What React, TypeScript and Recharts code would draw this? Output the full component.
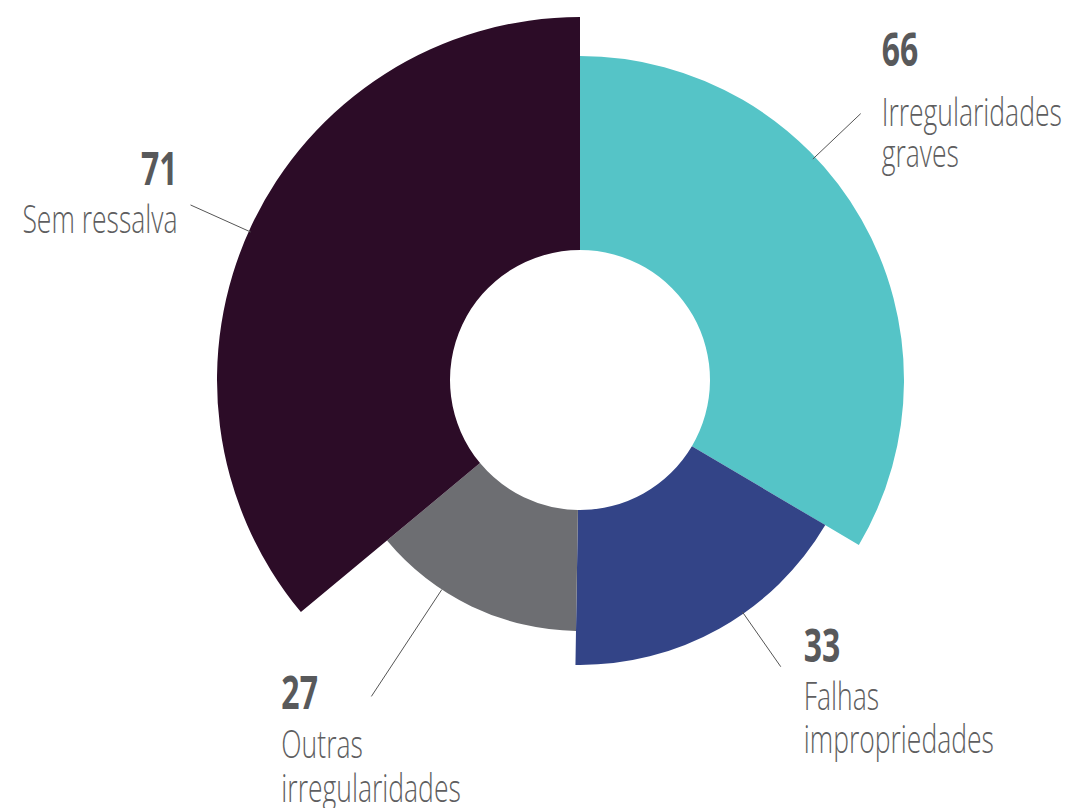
import React from "react";
import { PieChart, Pie, Cell } from "recharts";

const categories = ["Irregularidades graves", "Falhas impropriedades", "Outras irregularidades", "Sem ressalva"];
const values = [66, 33, 27, 71];
const labelLines = [["Irregularidades", "graves"], ["Falhas", "impropriedades"], ["Outras", "irregularidades"], ["Sem ressalva"]];

const colors = ["#55C4C7", "#334487", "#6D6E72", "#2C0C27"];
const outerRadii = [324, 285, 251, 363];
const INNER = 130;

// label layout: leader line angle (deg), radii, text offsets relative to line end
const labelLayout = [
  { angle: 43.5, r1: 321, r2: 387, anchor: "start", dx: 21, numDy: -48, textDy: [12, 53] },
  { angle: -55, r1: 283, r2: 350, anchor: "start", dx: 23, numDy: -5, textDy: [43, 86] },
  { angle: 236.6, r1: 251, r2: 379, anchor: "start", dx: -90, numDy: 13, textDy: [62, 106] },
  { angle: 155.8, r1: 361, r2: 427, anchor: "end", dx: -13, numDy: -20, textDy: [28] },
];

const data = categories.map((name, i) => ({ name, value: values[i], lines: labelLines[i] }));

const FONT = "'Open Sans', 'Noto Sans', sans-serif";
const SX = 0.68;

function makeLabel(idx: number) {
  return (props: any) => {
    if (props.index !== idx) return null;
    const { cx, cy } = props;
    const L = labelLayout[idx];
    const rad = (L.angle * Math.PI) / 180;
    const x1 = cx + L.r1 * Math.cos(rad);
    const y1 = cy - L.r1 * Math.sin(rad);
    const x2 = cx + L.r2 * Math.cos(rad);
    const y2 = cy - L.r2 * Math.sin(rad);
    const tx = x2 + L.dx;
    return (
      <g key={`lbl-${idx}`}>
        <line x1={x1} y1={y1} x2={x2} y2={y2} stroke="#555" strokeWidth={1} />
        <text
          transform={`translate(${tx},${y2 + L.numDy}) scale(${SX},1)`}
          x={0}
          y={0}
          textAnchor={L.anchor as any}
          fontFamily={FONT}
          fontWeight={700}
          fontSize={47}
          fill="#58595B"
        >
          {values[idx]}
        </text>
        {labelLines[idx].map((t, j) => (
          <text
            key={j}
            transform={`translate(${tx},${y2 + L.textDy[j]}) scale(${SX},1)`}
            x={0}
            y={0}
            textAnchor={L.anchor as any}
            fontFamily={FONT}
            fontWeight={300}
            fontSize={39}
            fill="#5E5E60"
          >
            {t}
          </text>
        ))}
      </g>
    );
  };
}

export default function App() {
  return (
    <div style={{ position: "absolute", left: 0, top: 0, width: 1072, height: 808, background: "#fff" }}>
      <PieChart width={1072} height={808} margin={{ top: 0, right: 0, bottom: 0, left: 0 }}>
        {categories.map((c, i) => (
          <Pie
            key={c}
            data={data}
            dataKey="value"
            nameKey="name"
            cx={580}
            cy={380}
            innerRadius={INNER}
            outerRadius={outerRadii[i]}
            startAngle={90}
            endAngle={-270}
            stroke="none"
            isAnimationActive={false}
            labelLine={false}
            label={makeLabel(i)}
          >
            {data.map((d, j) => (
              <Cell key={d.name} fill={j === i ? colors[i] : "none"} stroke="none" />
            ))}
          </Pie>
        ))}
      </PieChart>
    </div>
  );
}
